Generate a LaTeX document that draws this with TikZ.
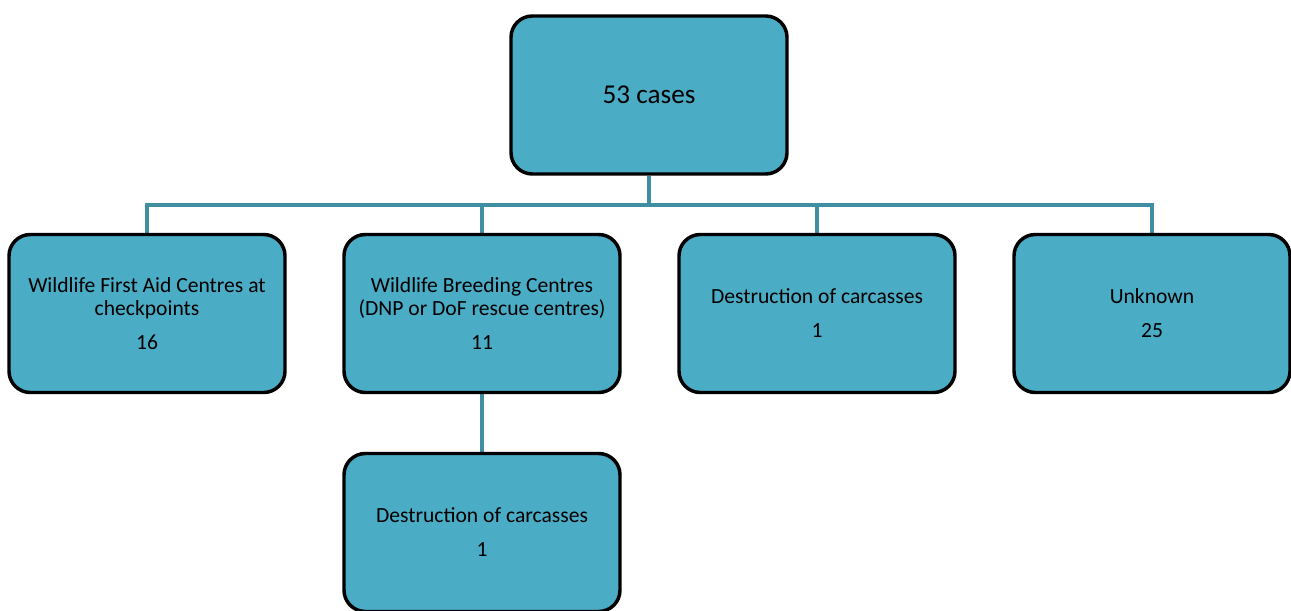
\documentclass[tikz,border=0pt]{standalone}
\usepackage{fontspec}
\setmainfont{Carlito}
\usetikzlibrary{backgrounds}

\tikzset{every picture/.style={line width=0.75pt}}
\tikzset{
  casebox/.style={draw=black, line width=2.6pt, fill={rgb, 255:red, 74; green, 172; blue, 197}, rounded corners=16pt,
    minimum width=207pt, minimum height=118.5pt, inner sep=0pt, align=center, font=\fontsize{16.2}{17.5}\selectfont},
  link/.style={draw={rgb, 255:red, 63; green, 142; blue, 162}, line width=3pt}
}

\begin{document}
\begin{tikzpicture}[x=0.75pt,y=0.75pt,yscale=-1,xscale=1]
\useasboundingbox (0,0) rectangle (1291,610);
\clip (0,0) rectangle (1291,610);

%Shape: Rounded Rect - total
\node[casebox, font=\fontsize{20.4}{24}\selectfont] (total) at (649,95) {53 cases};
%Shape: Rounded Rect - first row
\node[casebox] (aid) at (147,313.5) {Wildlife First Aid Centres at\\checkpoints\\[8pt]16};
\node[casebox] (breed) at (482,313.5) {Wildlife Breeding Centres\\(DNP or DoF rescue centres)\\[8pt]11};
\node[casebox] (destr) at (817,313.5) {Destruction of carcasses\\[8pt]1};
\node[casebox] (unknown) at (1152,313.5) {Unknown\\[8pt]25};
%Shape: Rounded Rect - second row
\node[casebox] (breeddestr) at (482,532.5) {Destruction of carcasses\\[8pt]1};

%Connectors
\begin{pgfonlayer}{background}
\draw[link] (total.south) -- ++(0,29) -| (aid.north);
\draw[link] (total.south) -- ++(0,29) -| (breed.north);
\draw[link] (total.south) -- ++(0,29) -| (destr.north);
\draw[link] (total.south) -- ++(0,29) -| (unknown.north);
\draw[link] (breed.south) -- (breeddestr.north);
\end{pgfonlayer}

\end{tikzpicture}
\end{document}
